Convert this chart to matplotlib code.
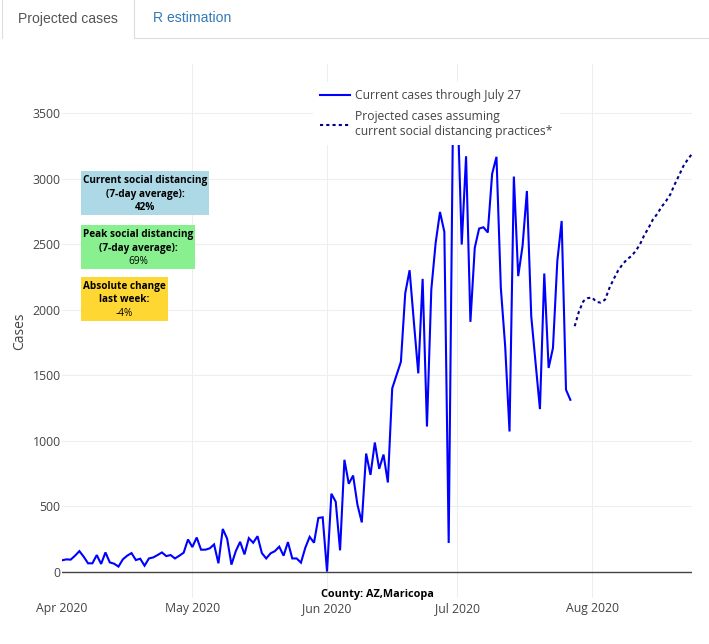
import matplotlib
matplotlib.use('Agg')
import matplotlib.pyplot as plt
import matplotlib.dates as mdates
from matplotlib.lines import Line2D
from matplotlib.patches import Rectangle
import pandas as pd

W, H = 709, 644
plt.rcParams['font.family'] = ['Open Sans', 'DejaVu Sans']

# Daily cases
april = [86, 93, 91, 121, 156, 113, 63, 63, 126, 58, 146, 70, 60, 38, 93, 121, 141, 88, 98, 45,
         100, 108, 126, 146, 118, 126, 100, 121, 144, 245]
may = [187, 260, 167, 167, 177, 207, 63, 325, 252, 53, 156, 227, 131, 255, 220, 270, 141, 100,
       139, 156, 190, 121, 225, 100, 100, 68, 182, 265, 220, 409, 414]
june = [0, 594, 533, 162, 853, 670, 733, 510, 375, 901, 738, 985, 784, 893, 680, 1398, 1500, 1601,
        2125, 2300, 1900, 1513, 2234, 1107, 2153, 2509, 2745, 2593, 218, 3510]
july = [3610, 2496, 3170, 1906, 2471, 2618, 2628, 2588, 3036, 3166, 2166, 1719, 1069, 3015, 2255,
        2485, 2905, 1949, 1592, 1240, 2275, 1554, 1707, 2370, 2676, 1388, 1311]
projected = [1873, 1987, 2064, 2087, 2092, 2058, 2053, 2076, 2165, 2234, 2298, 2344, 2382, 2407,
             2445, 2496, 2567, 2623, 2687, 2730, 2784, 2827, 2878, 2954, 3023, 3094, 3145, 3188]

current_cases = april + may + june + july
current_dates = pd.date_range('2020-04-01', periods=len(current_cases), freq='D')
projected_dates = pd.date_range('2020-07-28', periods=len(projected), freq='D')
y_ticks = [0, 500, 1000, 1500, 2000, 2500, 3000, 3500]

fig = plt.figure(figsize=(W / 100, H / 100), dpi=100)
ax = fig.add_axes([62 / W, 1 - 597.5 / H, 630 / W, 534 / H])

ax.plot(current_dates, current_cases, color='#0000ff', lw=1.5, solid_joinstyle='miter',
        label='Current cases through July 27')
ax.plot(projected_dates, projected, color='#00008b', lw=1.5, linestyle=(0, (1.5, 1.5)),
        label='Projected cases assuming\ncurrent social distancing practices*')

ax.set_xlim(pd.Timestamp('2020-04-01'), pd.Timestamp('2020-08-24'))
ax.set_ylim(-198, 3878)
ax.set_yticks(y_ticks)
ax.xaxis.set_major_locator(mdates.MonthLocator())
ax.xaxis.set_major_formatter(mdates.DateFormatter('%b %Y'))
ax.tick_params(length=0, labelsize=8.8, labelcolor='#444444')
ax.tick_params(axis='x', pad=3)
ax.tick_params(axis='y', pad=1)
ax.grid(color='#eeeeee', lw=0.8)
ax.set_axisbelow(True)
ax.xaxis.get_gridlines()[0].set_visible(False)  # no vertical line at the left edge
ax.axhline(0, color='#444444', lw=1, zorder=1.5)
for s in ax.spines.values():
    s.set_visible(False)

# Legend box sits on top of the peak, same as the original
leg = ax.legend(loc='upper left', bbox_to_anchor=(313 / W, 1 - 82 / H), bbox_transform=fig.transFigure,
                fontsize=8.75, frameon=True, framealpha=1, edgecolor='none', fancybox=False,
                borderaxespad=0, handlelength=2.45, handletextpad=0.4, labelspacing=0.6, borderpad=0.6)
for t in leg.get_texts():
    t.set_color('#444444')
    t.set_linespacing(1.25)

fig.text(20 / W, 1 - 331 / H, 'Cases', rotation=90, ha='center', va='center', fontsize=10, color='#444444')
fig.text(377 / W, 1 - 594 / H, 'County: AZ,Maricopa', ha='center', va='center', fontsize=7.8,
         fontweight='bold', color='black')

# Info boxes on the left
boxes = [
    (81, 171, 128, 44, '#add8e6', ['Current social distancing', '(7-day average):', '42%'], 'bold'),
    (81, 225, 114, 44, '#88f08f', ['Peak social distancing', '(7-day average):', '69%'], 'normal'),
    (81, 277, 87, 44, '#ffd733', ['Absolute change', 'last week:', '-4%'], 'normal'),
]
for x, y, w, h, col, lines, last_weight in boxes:
    fig.add_artist(Rectangle((x / W, 1 - (y + h) / H), w / W, h / H, transform=fig.transFigure,
                             facecolor=col, edgecolor='none', zorder=4))
    for i, line in enumerate(lines):
        weight = last_weight if i == 2 else 'bold'
        fig.text((x + w / 2) / W, 1 - (y + 10 + i * 13) / H, line, ha='center', va='center', fontsize=7.2,
                 fontweight=weight, color='black', zorder=5)

# Tabs at the top
tab_color = '#dddddd'
for xs, ys in [([134, 709], [38, 38]), ([134, 134], [0, 38]), ([2, 2], [0, 38])]:
    fig.add_artist(Line2D([v / W for v in xs], [1 - v / H for v in ys], color=tab_color, lw=0.8))
fig.text(18 / W, 1 - 18.5 / H, 'Projected cases', ha='left', va='center', fontsize=10.1,
         family='Liberation Sans', color='#555555')
fig.text(153 / W, 1 - 18.5 / H, 'R estimation', ha='left', va='center', fontsize=10.1,
         family='Liberation Sans', color='#337ab7')

plt.savefig('out.png', dpi=100)
